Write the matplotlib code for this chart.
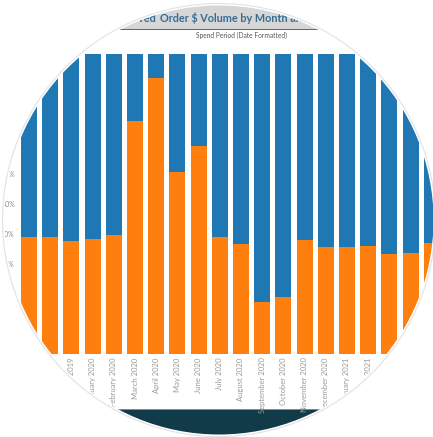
import numpy as np
import matplotlib
matplotlib.use("Agg")
import matplotlib.pyplot as plt
from matplotlib.patches import Rectangle, PathPatch, Ellipse
from matplotlib.path import Path
from matplotlib.transforms import Affine2D

# ---------------- data ----------------
months = ["October 2019", "November 2019", "December 2019", "January 2020",
          "February 2020", "March 2020", "April 2020", "May 2020", "June 2020",
          "July 2020", "August 2020", "September 2020", "October 2020",
          "November 2020", "December 2020", "January 2021", "February 2021",
          "March 2021", "April 2021", "May 2021"]
orange_share = [0.391, 0.391, 0.378, 0.382, 0.396, 0.776, 0.919, 0.608, 0.692,
                0.389, 0.366, 0.172, 0.190, 0.380, 0.358, 0.356, 0.360, 0.332,
                0.338, 0.371]
blue_share = [1 - v for v in orange_share]
yticks = [0.0, 0.1, 0.2, 0.3, 0.4, 0.5, 0.6, 0.7, 0.8, 0.9, 1.0]
ytick_labels = ["0%", "10%", "20%", "30%", "40%", "50%", "60%", "70%", "80%", "90%", "100%"]
title_prefix = "Approved"
title_rest = "Order $ Volume by Month and Category"
subtitle = "Spend Period (Date Formatted)"

BLUE = "#1f77b4"
ORANGE = "#ff7f0e"

W, H = 433, 437
fig = plt.figure(figsize=(W / 100, H / 100), dpi=100)
fig.patch.set_facecolor("white")


def fx(x):
    return x / W


def fy(y):
    return 1 - y / H


# header band and line
fig.add_artist(Rectangle((0, fy(29)), 1, 1 - fy(29) + 0.01, transform=fig.transFigure,
                         facecolor="#d6d6d6", edgecolor="none", zorder=0))
fig.add_artist(Rectangle((0, fy(30)), 1, 1.2 / H, transform=fig.transFigure,
                         facecolor="#4d6f84", edgecolor="none", zorder=0.5))
# bottom dark band
fig.add_artist(Rectangle((0, -0.01), 1, fy(409) + 0.01, transform=fig.transFigure,
                         facecolor="#123b4a", edgecolor="none", zorder=0))
fig.add_artist(Rectangle((0, fy(410)), 1, 1.0 / H, transform=fig.transFigure,
                         facecolor="#6f8f9b", edgecolor="none", zorder=0.5))

# titles
fig.text(fx(156), fy(18), title_prefix, ha="right", va="center", family="Lato",
         fontweight="bold", fontsize=7.8, color="#386b91", zorder=1)
fig.text(fx(160), fy(18), title_rest, ha="left", va="center", family="Lato",
         fontweight="bold", fontsize=7.8, color="#386b91", zorder=1)
fig.text(fx(241), fy(35), subtitle, ha="center", va="center", family="Lato",
         fontsize=4.8, color="#555555", zorder=1)

# bar axes: bar centre i at pixel 29 + 21.2*i
pitch = 21.2
left_px, right_px = 19, 433
ax = fig.add_axes([fx(left_px), fy(354), (right_px - left_px) / W, 300 / H])
ax.set_facecolor("none")
x = np.arange(len(months))
ax.bar(x, orange_share, width=16 / pitch, color=ORANGE, linewidth=0)
ax.bar(x, blue_share, bottom=orange_share, width=16 / pitch, color=BLUE, linewidth=0)
ax.set_xlim((left_px - 29) / pitch, (right_px - 29) / pitch)
ax.set_ylim(0, 1)
ax.set_yticks(yticks)
ax.set_yticklabels(ytick_labels, family="Lato", fontsize=5, color="#8a8a8a")
ax.set_xticks(x)
ax.set_xticklabels(months, rotation=90, family="Lato", fontsize=5.5, color="#9a9a9a",
                   va="top", ha="center")
ax.tick_params(axis="y", length=0, pad=3)
ax.tick_params(axis="x", length=0, pad=2.5)
for s in ax.spines.values():
    s.set_visible(False)

# circular crop (centre / radius in pixels from top-left)
cx, cy, R = 219, 220, 214.5

# tick labels lying completely outside the round crop are not visible in the reference
fig.canvas.draw()
ccx, ccy = cx, H - cy
for lab in ax.get_xticklabels() + ax.get_yticklabels():
    bb = lab.get_window_extent()
    nx = min(max(ccx, bb.x0), bb.x1)
    ny = min(max(ccy, bb.y0), bb.y1)
    if np.hypot(nx - ccx, ny - ccy) > R:
        lab.set_visible(False)

rect = Path([(-0.2, -0.2), (-0.2, 1.2), (1.2, 1.2), (1.2, -0.2), (-0.2, -0.2)],
            [Path.MOVETO, Path.LINETO, Path.LINETO, Path.LINETO, Path.CLOSEPOLY])
circ = Path.unit_circle().transformed(
    Affine2D().scale(R / W, R / H).translate(fx(cx), fy(cy)))
mask = Path.make_compound_path(rect, circ)
fig.add_artist(PathPatch(mask, transform=fig.transFigure, facecolor="white",
                         edgecolor="none", zorder=10))
fig.add_artist(Ellipse((fx(cx), fy(cy)), 2 * (R + 2) / W, 2 * (R + 2) / H,
                       transform=fig.transFigure, facecolor="none",
                       edgecolor="#e2e2e2", linewidth=0.8, zorder=11))

fig.savefig("out.png", dpi=100, facecolor="white")
